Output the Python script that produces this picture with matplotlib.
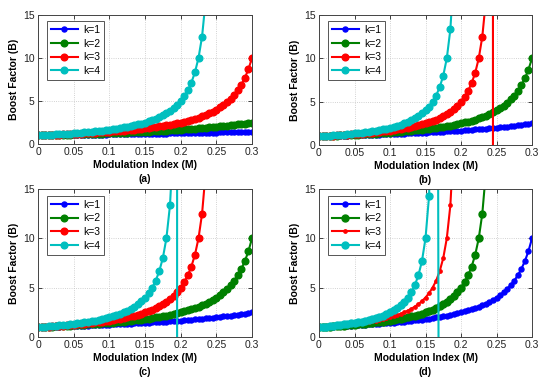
import matplotlib
matplotlib.use('Agg')
import matplotlib.pyplot as plt

plt.rcParams['font.family'] = ['Liberation Sans', 'DejaVu Sans']

# modulation index, step 0.005
m = [i * 0.005 for i in range(61)]

# boost factor curves (one list per curve shape)
curve_1 = [1.00, 1.01, 1.01, 1.02, 1.02, 1.03, 1.03, 1.04, 1.04, 1.05,
           1.05, 1.06, 1.06, 1.07, 1.08, 1.08, 1.09, 1.09, 1.10, 1.10,
           1.11, 1.12, 1.12, 1.13, 1.14, 1.14, 1.15, 1.16, 1.16, 1.17,
           1.18, 1.18, 1.19, 1.20, 1.20, 1.21, 1.22, 1.23, 1.23, 1.24,
           1.25, 1.26, 1.27, 1.27, 1.28, 1.29, 1.30, 1.31, 1.32, 1.32,
           1.33, 1.34, 1.35, 1.36, 1.37, 1.38, 1.39, 1.40, 1.41, 1.42,
           1.43]
curve_2 = [1.00, 1.01, 1.02, 1.03, 1.04, 1.05, 1.06, 1.08, 1.09, 1.10,
           1.11, 1.12, 1.14, 1.15, 1.16, 1.18, 1.19, 1.20, 1.22, 1.24,
           1.25, 1.27, 1.28, 1.30, 1.32, 1.33, 1.35, 1.37, 1.39, 1.41,
           1.43, 1.45, 1.47, 1.49, 1.52, 1.54, 1.56, 1.59, 1.61, 1.64,
           1.67, 1.69, 1.72, 1.75, 1.79, 1.82, 1.85, 1.89, 1.92, 1.96,
           2.00, 2.04, 2.08, 2.13, 2.17, 2.22, 2.27, 2.33, 2.38, 2.44,
           2.50]
curve_3 = [1.00, 1.02, 1.03, 1.05, 1.06, 1.08, 1.10, 1.12, 1.14, 1.16,
           1.18, 1.20, 1.22, 1.24, 1.27, 1.29, 1.32, 1.34, 1.37, 1.40,
           1.43, 1.46, 1.49, 1.53, 1.56, 1.60, 1.64, 1.68, 1.72, 1.77,
           1.82, 1.87, 1.92, 1.98, 2.04, 2.11, 2.17, 2.25, 2.33, 2.41,
           2.50, 2.60, 2.70, 2.82, 2.94, 3.08, 3.23, 3.39, 3.57, 3.77,
           4.00, 4.26, 4.55, 4.88, 5.26, 5.71, 6.25, 6.90, 7.69, 8.70,
           10.00]
curve_4 = [1.00, 1.02, 1.04, 1.06, 1.09, 1.11, 1.14, 1.16, 1.19, 1.22,
           1.25, 1.28, 1.32, 1.35, 1.39, 1.43, 1.47, 1.52, 1.56, 1.61,
           1.67, 1.72, 1.79, 1.85, 1.92, 2.00, 2.08, 2.17, 2.27, 2.38,
           2.50, 2.63, 2.78, 2.94, 3.13, 3.33, 3.57, 3.85, 4.17, 4.55,
           5.00, 5.56, 6.25, 7.14, 8.33, 10.00, 12.50, 16.67, 25.00, 50.00]
curve_5 = [1.00, 1.03, 1.05, 1.08, 1.11, 1.14, 1.18, 1.21, 1.25, 1.29,
           1.33, 1.38, 1.43, 1.48, 1.54, 1.60, 1.67, 1.74, 1.82, 1.90,
           2.00, 2.11, 2.22, 2.35, 2.50, 2.67, 2.86, 3.08, 3.33, 3.64,
           4.00, 4.44, 5.00, 5.71, 6.67, 8.00, 10.00, 13.33, 20.00, 40.00]
curve_6 = [1.00, 1.03, 1.06, 1.10, 1.14, 1.18, 1.22, 1.27, 1.32, 1.37,
           1.43, 1.49, 1.56, 1.64, 1.72, 1.82, 1.92, 2.04, 2.17, 2.33,
           2.50, 2.70, 2.94, 3.23, 3.57, 4.00, 4.55, 5.26, 6.25, 7.69,
           10.00, 14.29, 25.00, 100.00, -50.00]

# value just past the pole where the curve drops (shows as a vertical line)
drop_b_k3 = [-1e15]
drop_c_k4 = [-1e15]

labels = ['k=1', 'k=2', 'k=3', 'k=4']
panel_names = ['(a)', '(b)', '(c)', '(d)']
panel_curves = [
    [curve_1, curve_2, curve_3, curve_4],
    [curve_2, curve_3, curve_4 + drop_b_k3, curve_5],
    [curve_2, curve_3, curve_4, curve_5 + drop_c_k4],
    [curve_3, curve_4, curve_5, curve_6],
]

colors = ['#0000ff', '#008000', '#ff0000', '#00bfbf']
msizes = [[3.6, 4.8, 4.8, 4.8],
          [3.6, 4.8, 4.8, 4.8],
          [3.6, 4.8, 4.8, 4.8],
          [3.6, 5.0, 2.4, 5.0]]

W, H = 550, 385
# axes boxes in pixels: left, top, right, bottom
boxes = [(38, 15, 252, 144), (319, 15, 532, 145),
         (38, 189, 252, 337), (319, 189, 532, 337)]

fig = plt.figure(figsize=(W / 100, H / 100), dpi=100)

for p in range(4):
    l, t, r, b = boxes[p]
    ax = fig.add_axes([l / W, 1 - b / H, (r - l) / W, (b - t) / H])
    for k in range(4):
        ys = panel_curves[p][k]
        ax.plot(m[:len(ys)], ys, '-o', color=colors[k], lw=1.5,
                ms=msizes[p][k], mfc=colors[k], mec=colors[k], label=labels[k])
    ax.set_xlim(0, 0.3)
    ax.set_ylim(0, 15)
    ax.set_xticks([0, 0.05, 0.1, 0.15, 0.2, 0.25, 0.3])
    ax.set_xticklabels(['0', '0.05', '0.1', '0.15', '0.2', '0.25', '0.3'])
    ax.set_yticks([0, 5, 10, 15])
    ax.tick_params(direction='in', top=True, right=True, labelsize=7.5,
                   length=3, width=0.6, pad=2.5, colors='#222222')
    ax.grid(True, ls=':', lw=0.6, color='#c4c4c4')
    for s in ax.spines.values():
        s.set_linewidth(0.7)
        s.set_color('#444444')
    ax.set_xlabel('Modulation Index (M)', fontsize=7.5, fontweight='bold', labelpad=1.5)
    ax.set_ylabel('Boost Factor (B)', fontsize=7.5, fontweight='bold', labelpad=3)
    ax.annotate(panel_names[p], xy=(0.5, 0), xycoords='axes fraction',
                xytext=(0, -25.5), textcoords='offset points',
                ha='center', va='center', fontsize=7.5, fontweight='bold')
    leg = ax.legend(loc='upper left', bbox_to_anchor=(0.04, 0.955), fontsize=7.5,
                    fancybox=False, framealpha=1, edgecolor='#555555',
                    handlelength=2.6, borderpad=0.4, labelspacing=0.35,
                    handletextpad=0.5, borderaxespad=0)
    leg.get_frame().set_linewidth(0.7)

fig.savefig('out.png', dpi=100)
